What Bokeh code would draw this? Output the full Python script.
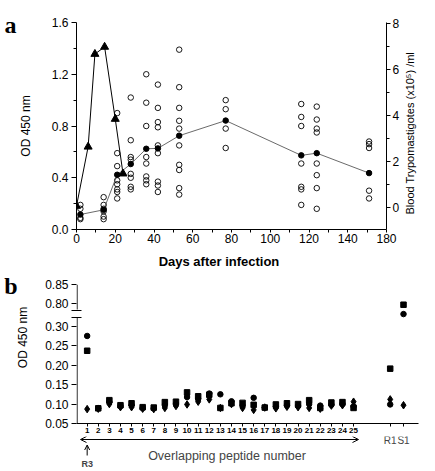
import math
from bokeh.plotting import figure
from bokeh.layouts import column
from bokeh.models import (Range1d, LinearAxis, FixedTicker, PrintfTickFormatter,
                          Label, Arrow, OpenHead)
from bokeh.embed import file_html
from bokeh.resources import INLINE

FONT = "Liberation Sans"
SERIF = "Liberation Serif"

# ---------------- Panel a data ----------------
tri_days = [0, 6, 9.5, 14.5, 20, 24]
tri_parasites = [0.05, 2.63, 6.67, 6.98, 3.84, 1.46]   # x10^5 /ml (right axis)

mean_days = [2, 14, 21, 28, 36, 42, 53, 77, 116, 124, 151]
mean_od = [0.116, 0.152, 0.423, 0.506, 0.624, 0.627, 0.725, 0.842, 0.573, 0.590, 0.436]

indiv_od = [
    [0.19, 0.16, 0.09, 0.08],
    [0.25, 0.19, 0.16, 0.14, 0.10, 0.08],
    [0.90, 0.59, 0.49, 0.38, 0.35, 0.31, 0.29, 0.24],
    [1.02, 0.69, 0.56, 0.54, 0.43, 0.40, 0.33, 0.31],
    [1.20, 0.98, 0.80, 0.56, 0.51, 0.41, 0.38, 0.35],
    [1.12, 0.94, 0.83, 0.79, 0.65, 0.59, 0.37, 0.34, 0.29],
    [1.39, 1.10, 0.94, 0.84, 0.78, 0.65, 0.50, 0.46, 0.32, 0.27],
    [1.00, 0.93, 0.78, 0.63],
    [0.97, 0.87, 0.80, 0.51, 0.33, 0.31, 0.19],
    [0.95, 0.85, 0.78, 0.75, 0.51, 0.42, 0.32, 0.16],
    [0.68, 0.66, 0.63, 0.30, 0.24],
]

x_ticks_a = [0, 20, 40, 60, 80, 100, 120, 140, 160]
x_tick_labels_a = ["0", "20", "40", "60", "80", "100", "120", "140", "180"]
od_ticks_a = [0.0, 0.4, 0.8, 1.2, 1.6]
par_ticks = [0, 2, 4, 6, 8]

# ---------------- Panel b data ----------------
peptides = [str(i) for i in range(1, 26)]
controls = ["R1", "S1"]
square_od = [0.237, 0.089, 0.110, 0.097, 0.102, 0.092, 0.091, 0.105, 0.106, 0.130,
             0.120, 0.124, 0.090, 0.102, 0.103, 0.098, 0.091, 0.099, 0.102, 0.100,
             0.110, 0.090, 0.104, 0.105, 0.090, 0.191, 0.798]
circle_od = [0.275, 0.089, 0.105, 0.095, 0.097, 0.090, 0.089, 0.097, 0.100, 0.118,
             0.113, 0.127, 0.125, 0.107, 0.095, 0.116, 0.091, 0.093, 0.097, 0.095,
             0.100, 0.096, 0.098, 0.100, 0.094, 0.099, 0.774]
diamond_od = [0.087, 0.088, 0.100, 0.092, 0.092, 0.088, 0.087, 0.090, 0.095, 0.099,
              0.106, 0.112, 0.090, 0.100, 0.090, 0.085, 0.091, 0.089, 0.093, 0.092,
              0.090, 0.088, 0.096, 0.097, 0.106, 0.112, 0.097]
od_ticks_b = [0.05, 0.10, 0.15, 0.20, 0.25, 0.30, 0.80, 0.85]


def style_axis(ax, size="12px", tick_out=5, standoff=3):
    ax.axis_line_color = "black"
    ax.axis_line_width = 1
    ax.major_tick_line_color = "black"
    ax.minor_tick_line_color = "black"
    ax.major_tick_in = 0
    ax.major_tick_out = tick_out
    ax.minor_tick_in = 0
    ax.minor_tick_out = 3
    ax.major_label_text_font = FONT
    ax.major_label_text_font_size = size
    ax.major_label_text_color = "black"
    ax.major_label_standoff = standoff


def text_axis(ticks, labels, font=FONT, size="12px", style="normal", standoff=0,
              orientation="horizontal", **kw):
    """An axis with no line and no ticks, used only to place a text beside the frame."""
    ax = LinearAxis(ticker=FixedTicker(ticks=ticks, minor_ticks=[]), **kw)
    ax.axis_line_color = None
    ax.major_tick_line_color = None
    ax.minor_tick_line_color = None
    ax.major_tick_out = 0
    ax.major_tick_in = 0
    ax.minor_tick_out = 0
    ax.minor_tick_in = 0
    ax.major_label_standoff = standoff
    ax.major_label_text_font = font
    ax.major_label_text_font_size = size
    ax.major_label_text_font_style = style
    ax.major_label_text_color = "black"
    ax.major_label_orientation = orientation
    ax.major_label_overrides = dict(zip(ticks, labels))
    return ax


W = 427
# ================= Panel a =================
A_H, A_L, A_T, A_B = 272, 76, 22, 43
A_R = W - 386
xa0, xa1, ya0, ya1 = 0, 160, 0.0, 1.6
pa = figure(width=W, height=A_H, x_range=Range1d(xa0, xa1), y_range=Range1d(ya0, ya1),
            output_backend="svg", toolbar_location=None, title=None, frame_align=False,
            min_border_left=A_L, min_border_right=A_R, min_border_top=A_T, min_border_bottom=A_B)
pa.extra_y_ranges = {"par": Range1d(-0.973, 8.044)}
pa.outline_line_color = None
pa.grid.visible = False

sxa = (W - A_L - A_R) / (xa1 - xa0)
sya = (A_H - A_T - A_B) / (ya1 - ya0)


def a_x(px):
    return xa0 + (px - A_L) / sxa


def a_y(py):
    return ya1 - (py - A_T) / sya


ax = pa.xaxis[0]
style_axis(ax, tick_out=3, standoff=1)
ax.ticker = FixedTicker(ticks=x_ticks_a, minor_ticks=list(range(10, 160, 20)))
ax.major_label_overrides = dict(zip(x_ticks_a, x_tick_labels_a))

ay = pa.yaxis[0]
style_axis(ay)
ay.ticker = FixedTicker(ticks=od_ticks_a, minor_ticks=[0.2, 0.6, 1.0, 1.4])
ay.formatter = PrintfTickFormatter(format="%.1f")
ay.axis_label = "OD 450 nm"
ay.axis_label_text_font = FONT
ay.axis_label_text_font_size = "12px"
ay.axis_label_text_font_style = "normal"
ay.axis_label_text_color = "black"
ay.axis_label_standoff = 16

ra = LinearAxis(y_range_name="par", ticker=FixedTicker(ticks=par_ticks, minor_ticks=[1, 3, 5, 7]))
style_axis(ra, tick_out=4, standoff=2)
pa.add_layout(ra, "right")

# texts beside panel a
pa.add_layout(text_axis([a_y(24)], ["a"], font=SERIF, size="24px", style="bold", standoff=-1), "left")
pa.add_layout(text_axis([a_y(111)], ["Blood Trypomastigotes (x10\u2075) /ml"], size="11px",
                        standoff=8, orientation=math.pi / 2), "right")
pa.add_layout(text_axis([a_x(218.5)], ["Days after infection"], size="13px", style="bold",
                        standoff=8), "below")

xs = [d for d, vals in zip(mean_days, indiv_od) for _ in vals]
ys = [v for vals in indiv_od for v in vals]
pa.scatter(xs, ys, marker="circle", size=5.5, fill_color=None, line_color="black", line_width=0.9)
pa.line(mean_days, mean_od, line_color="#444444", line_width=0.8)
pa.scatter(mean_days, mean_od, marker="circle", size=5.5, fill_color="black", line_color="black")
pa.line(tri_days, tri_parasites, y_range_name="par", line_color="black", line_width=1)
pa.scatter(tri_days, tri_parasites, y_range_name="par", marker="triangle", size=8,
           fill_color="black", line_color="black")

# ================= Panel b =================
B_H, B_L, B_T, B_B = 164, 76, 12, 13
B_R = W - 418
GAP = 0.0573


def ty(v):
    # broken axis: values above the break are shifted down next to 0.30
    return v if v < 0.5 else v - 0.5 + GAP


xb0, xb1 = 0.04, 30.85
yb0, yb1 = 0.05, ty(0.85)
pb = figure(width=W, height=B_H, x_range=Range1d(xb0, xb1), y_range=Range1d(yb0, yb1),
            output_backend="svg", toolbar_location=None, title=None, frame_align=False,
            min_border_left=B_L, min_border_right=B_R, min_border_top=B_T, min_border_bottom=B_B)
pb.outline_line_color = None
pb.grid.visible = False

sxb = (W - B_L - B_R) / (xb1 - xb0)
syb = (B_H - B_T - B_B) / (yb1 - yb0)
B_TOP = A_H + B_T      # page y of panel b frame top


def b_y(py):
    return yb1 - (py - B_TOP) / syb


pep_x = list(range(1, len(peptides) + 1))
ctrl_x = [28.3, 29.5]
all_x = pep_x + ctrl_x

bx = pb.xaxis[0]
style_axis(bx, "8px", tick_out=3, standoff=1)
bx.major_label_text_font_style = "bold"
bx.ticker = FixedTicker(ticks=all_x, minor_ticks=[])
ov = {xv: lab for xv, lab in zip(pep_x, peptides)}
ov.update({xv: "" for xv in ctrl_x})
bx.major_label_overrides = ov

by = pb.yaxis[0]
style_axis(by)
yt = [ty(v) for v in od_ticks_b]
# two short crossing marks show the axis break
by.ticker = FixedTicker(ticks=yt, minor_ticks=[b_y(310.0), b_y(316.5)])
by.minor_tick_in = 5
by.minor_tick_out = 5
by.axis_line_color = None
by.formatter = PrintfTickFormatter(format="%.2f")
by.major_label_overrides = {ty(v): "%.2f" % v for v in od_ticks_b}

pb.add_layout(text_axis([b_y(337)], ["OD 450 nm"], size="12px", standoff=13,
                        orientation="parallel"), "left")
pb.add_layout(text_axis([b_y(285)], ["b"], font=SERIF, size="24px", style="bold",
                        standoff=-5), "left")

# broken y-axis line (upper and lower pieces), just inside the frame edge
xl = xb0 + 0.6 / sxb
pb.segment(x0=[xl, xl], y0=[yb1, b_y(317.0)], x1=[xl, xl], y1=[b_y(309.0), yb0],
           line_color="black", line_width=1)

pb.scatter(all_x, [ty(v) for v in diamond_od], marker="diamond", size=7.5,
           fill_color="black", line_color="black")
pb.scatter(all_x, [ty(v) for v in square_od], marker="square", size=5.5,
           fill_color="black", line_color="black")
pb.scatter(all_x, [ty(v) for v in circle_od], marker="circle", size=5.5,
           fill_color="black", line_color="black")

# ================= Strip under panel b (arrows and captions) =================
C_TOP = A_H + B_H
C_H = 471 - C_TOP
xc0 = xb0 - B_L / sxb
xc1 = xc0 + W / sxb
pc = figure(width=W, height=C_H, x_range=Range1d(xc0, xc1), y_range=Range1d(C_H, 0),
            output_backend="svg", toolbar_location=None, title=None, frame_align=False,
            x_axis_type=None, y_axis_type=None,
            min_border_left=0, min_border_right=0, min_border_top=0, min_border_bottom=0)
pc.outline_line_color = None
pc.grid.visible = False


def c_y(py):
    return py - C_TOP


def b_x(px):
    return xb0 + (px - B_L) / sxb


pc.add_layout(Arrow(x_start=b_x(80), y_start=c_y(439), x_end=b_x(358), y_end=c_y(439),
                    start=OpenHead(size=6, line_width=1), end=OpenHead(size=6, line_width=1),
                    line_color="black", line_width=1))
pc.add_layout(Arrow(x_start=pep_x[0], y_start=c_y(455), x_end=pep_x[0], y_end=c_y(444.5),
                    end=OpenHead(size=5, line_width=1), line_color="black", line_width=1))
pc.add_layout(Label(x=pep_x[0], y=c_y(463), text="R3", text_font=FONT, text_font_style="bold",
                    text_font_size="9px", text_align="center", text_baseline="middle"))
for xv, lab in zip(ctrl_x, controls):
    pc.add_layout(Label(x=xv, y=c_y(439.8), text=lab, text_font=FONT, text_font_size="10px",
                        text_align="center", text_baseline="middle"))
pc.add_layout(Label(x=b_x(226.5), y=c_y(455), text="Overlapping peptide number", text_font=FONT,
                    text_font_size="12.5px", text_align="center", text_baseline="middle"))

layout = column(pa, pb, pc, spacing=0)
open("out.html", "w").write(file_html(layout, INLINE))
